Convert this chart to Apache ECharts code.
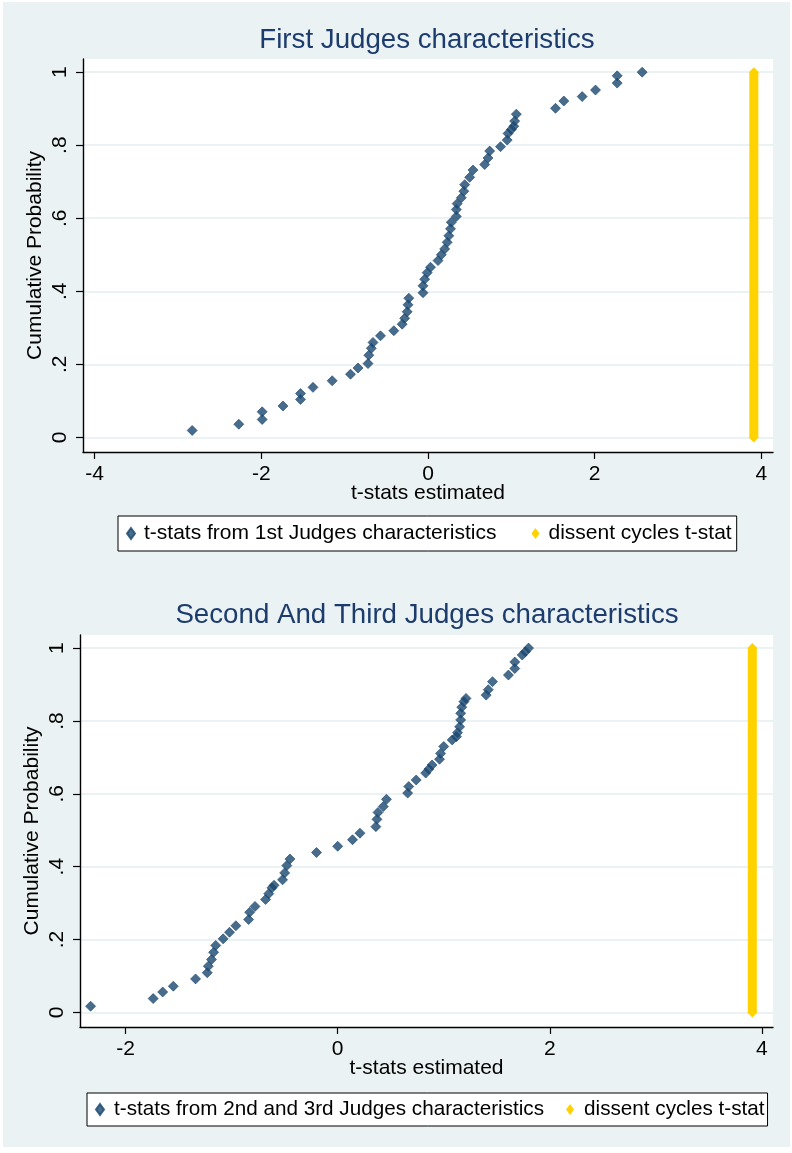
<!DOCTYPE html>
<html>
<head>
<meta charset="utf-8">
<script src="https://cdn.jsdelivr.net/npm/echarts@6/dist/echarts.min.js"></script>
<style>
  html, body { margin: 0; padding: 0; background: #ffffff; }
  #chart { width: 792px; height: 1153px; }
</style>
</head>
<body>
<div id="chart"></div>
<script>
// Estimated t-statistics and their cumulative probabilities, first judges
const firstT = [-2.83, -2.27, -1.99, -1.99, -1.74, -1.53, -1.53, -1.38, -1.15, -0.93,
  -0.84, -0.72, -0.71, -0.68, -0.66, -0.57, -0.41, -0.31, -0.28, -0.25,
  -0.24, -0.23, -0.06, -0.06, -0.04, -0.01, 0.03, 0.12, 0.16, 0.20,
  0.23, 0.25, 0.27, 0.28, 0.34, 0.34, 0.35, 0.40, 0.43, 0.44,
  0.50, 0.54, 0.68, 0.72, 0.74, 0.87, 0.95, 0.96, 1.00, 1.03,
  1.04, 1.06, 1.53, 1.63, 1.85, 2.01, 2.27, 2.27, 2.57];
const firstP = [0.019, 0.036, 0.049, 0.070, 0.086, 0.104, 0.120, 0.137, 0.155, 0.173,
  0.190, 0.202, 0.225, 0.244, 0.260, 0.278, 0.292, 0.310, 0.326, 0.344,
  0.363, 0.381, 0.396, 0.415, 0.433, 0.451, 0.466, 0.484, 0.500, 0.516,
  0.534, 0.552, 0.571, 0.589, 0.605, 0.624, 0.640, 0.656, 0.674, 0.692,
  0.712, 0.732, 0.747, 0.765, 0.784, 0.796, 0.814, 0.832, 0.843, 0.852,
  0.866, 0.885, 0.901, 0.921, 0.933, 0.951, 0.970, 0.990, 1.000];

// Estimated t-statistics and their cumulative probabilities, second and third judges
const secondT = [-2.33, -1.74, -1.65, -1.55, -1.34, -1.23, -1.22, -1.19, -1.17, -1.15,
  -1.08, -1.02, -0.96, -0.84, -0.83, -0.78, -0.68, -0.65, -0.62, -0.60,
  -0.52, -0.50, -0.48, -0.45, -0.20, 0.00, 0.14, 0.21, 0.36, 0.37,
  0.38, 0.43, 0.46, 0.66, 0.67, 0.74, 0.83, 0.86, 0.89, 0.96,
  0.97, 1.00, 1.08, 1.12, 1.13, 1.15, 1.16, 1.16, 1.17, 1.19,
  1.21, 1.40, 1.42, 1.46, 1.61, 1.67, 1.67, 1.74, 1.77, 1.80];
const secondP = [0.017, 0.038, 0.056, 0.072, 0.092, 0.109, 0.127, 0.145, 0.165, 0.184,
  0.202, 0.220, 0.238, 0.255, 0.275, 0.291, 0.310, 0.326, 0.342, 0.349,
  0.364, 0.383, 0.403, 0.421, 0.439, 0.456, 0.474, 0.492, 0.510, 0.530,
  0.549, 0.565, 0.585, 0.602, 0.620, 0.638, 0.657, 0.668, 0.679, 0.695,
  0.711, 0.730, 0.748, 0.757, 0.768, 0.784, 0.803, 0.821, 0.838, 0.853,
  0.862, 0.871, 0.886, 0.908, 0.926, 0.944, 0.962, 0.981, 0.990, 1.000];

// Dissent cycles t-stat, drawn as a vertical band over the full probability range
const dissentT = 3.91;
const dissentP = [0, 1];

// Axis ticks and labels
const probTicks = [0, 0.2, 0.4, 0.6, 0.8, 1];
const probTickLabels = ['0', '.2', '.4', '.6', '.8', '1'];
const firstXTicks = [-4, -2, 0, 2, 4];
const secondXTicks = [-2, 0, 2, 4];

const titles = ['First Judges characteristics', 'Second And Third Judges characteristics'];
const seriesNames = [
  't-stats from 1st Judges characteristics',
  't-stats from 2nd and 3rd Judges characteristics',
  'dissent cycles t-stat'
];
const xName = 't-stats estimated';
const yName = 'Cumulative Probability';

const FONT = '"Liberation Sans", Arial, sans-serif';
const NAVY = '#1a476f';
const GOLD = '#ffd200';
const BG = '#eaf2f3';

const zip = (xs, ys) => xs.map((x, i) => [x, ys[i]]);

function probAxis(gridIndex) {
  return {
    type: 'value', gridIndex: gridIndex, min: -0.04, max: 1.036,
    axisLine: { show: true, onZero: false, lineStyle: { color: '#000', width: 1.4 } },
    axisTick: { show: true, length: 7, customValues: probTicks, lineStyle: { color: '#000', width: 1.2 } },
    axisLabel: {
      customValues: probTicks, rotate: 90, margin: 12,
      align: 'center', verticalAlign: 'bottom',
      fontSize: 21, color: '#000', fontFamily: FONT,
      formatter: v => probTickLabels[probTicks.findIndex(t => Math.abs(t - v) < 1e-9)]
    },
    splitLine: { show: true, lineStyle: { color: '#e4eef0', width: 1.5 } },
    name: yName, nameLocation: 'middle', nameGap: 37, nameRotate: 90,
    nameMoveOverlap: false,
    nameTextStyle: { fontSize: 21, color: '#000', fontFamily: FONT }
  };
}

function tAxis(gridIndex, min, max, ticks) {
  return {
    type: 'value', gridIndex: gridIndex, min: min, max: max,
    axisLine: { show: true, onZero: false, lineStyle: { color: '#000', width: 1.4 } },
    axisTick: { show: true, length: 7, customValues: ticks, lineStyle: { color: '#000', width: 1.2 } },
    axisLabel: {
      customValues: ticks, margin: 12,
      fontSize: 21, color: '#000', fontFamily: FONT
    },
    splitLine: { show: false },
    name: xName, nameLocation: 'middle', nameGap: 31,
    nameMoveOverlap: false,
    nameTextStyle: { fontSize: 21, color: '#000', fontFamily: FONT }
  };
}

function dots(name, idx, data) {
  return {
    name: name, type: 'scatter', xAxisIndex: idx, yAxisIndex: idx,
    data: data, symbol: 'diamond', symbolSize: 10,
    itemStyle: { color: NAVY, borderColor: NAVY, borderWidth: 0.8 }, z: 3
  };
}

function dissentBand(idx) {
  return {
    name: seriesNames[2], type: 'line', xAxisIndex: idx, yAxisIndex: idx,
    data: dissentP.map(p => [dissentT, p]),
    symbol: 'diamond', symbolSize: 10, showSymbol: true,
    itemStyle: { color: GOLD },
    lineStyle: { color: GOLD, width: 9 }, z: 4
  };
}

function legendBox(left, top, names, padding, gap, textPad, fontSize) {
  return {
    left: left, top: top, orient: 'horizontal',
    data: names.map(n => ({ name: n, icon: 'diamond' })),
    itemWidth: 8, itemHeight: 11, itemGap: gap, padding: padding,
    borderColor: '#000', borderWidth: 1, backgroundColor: '#fff',
    selectedMode: false,
    textStyle: { fontSize: fontSize, color: '#000', fontFamily: FONT, padding: textPad }
  };
}

const chart = echarts.init(document.getElementById('chart'), null, { renderer: 'canvas' });
chart.setOption({
  animation: false,
  backgroundColor: '#ffffff',
  textStyle: { fontFamily: FONT },
  graphic: [
    { type: 'rect', z: -10, silent: true, shape: { x: 3, y: 2, width: 787, height: 1145 }, style: { fill: BG } },
    { type: 'text', x: 427, y: 40, style: { text: titles[0], fill: '#1d3c6e', fontSize: 27.7, fontFamily: FONT, align: 'center', verticalAlign: 'middle' } },
    { type: 'text', x: 427, y: 615, style: { text: titles[1], fill: '#1d3c6e', fontSize: 27.7, fontFamily: FONT, align: 'center', verticalAlign: 'middle' } }
  ],
  grid: [
    { left: 83, top: 59, width: 690, height: 393, show: true, backgroundColor: '#fff', borderWidth: 0 },
    { left: 80, top: 635, width: 693, height: 392, show: true, backgroundColor: '#fff', borderWidth: 0 }
  ],
  xAxis: [
    tAxis(0, -4.14, 4.14, firstXTicks),
    tAxis(1, -2.43, 4.105, secondXTicks)
  ],
  yAxis: [probAxis(0), probAxis(1)],
  legend: [
    legendBox(118, 516, [seriesNames[0], seriesNames[2]], [7, 5, 7, 8], 35, [0, 0, 0, 4], 21),
    legendBox(87, 1093, [seriesNames[1], seriesNames[2]], [6, 3, 6, 8], 22, [0, 0, 0, 5], 20.7)
  ],
  series: [
    dots(seriesNames[0], 0, zip(firstT, firstP)),
    dissentBand(0),
    dots(seriesNames[1], 1, zip(secondT, secondP)),
    dissentBand(1)
  ]
});
</script>
</body>
</html>
